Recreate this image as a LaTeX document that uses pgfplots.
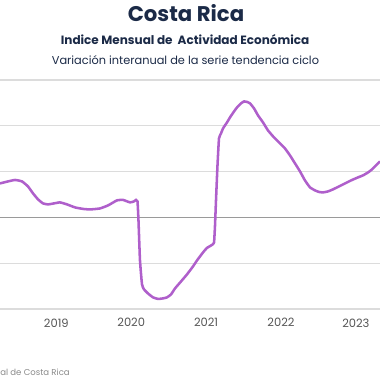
\documentclass[border=0pt]{standalone}
\usepackage{pgfplots}
\pgfplotsset{compat=1.18}
\usepackage{fontspec}
\setmainfont{Poppins}
\definecolor{navy}{HTML}{1B2A47}
\definecolor{linepurple}{HTML}{AF5FCB}
\definecolor{gridgray}{HTML}{DCDCDC}
\definecolor{zerogray}{HTML}{9A9A9A}
\definecolor{ticktext}{HTML}{555555}
\definecolor{srctext}{HTML}{8A8A8A}
\begin{document}
\begin{tikzpicture}
\path[use as bounding box] (0,0) rectangle (10cm,10cm);
\node[anchor=base, text=navy, font=\fontsize{15.9}{18}\selectfont\bfseries] at (4.895cm,9.429cm) {Costa Rica};
\node[anchor=base, text=navy, font=\fontsize{9.0}{10}\selectfont\bfseries] at (4.87cm,8.834cm) {Indice Mensual de~ Actividad Económica};
\node[anchor=base, text=navy, font=\fontsize{8.5}{10}\selectfont] at (4.88cm,8.308cm) {Variación interanual de la serie tendencia ciclo};
\node[anchor=base west, inner sep=0pt, text=srctext, font=\fontsize{6.4}{8}\selectfont] at (0,0.115cm) {al de Costa Rica};
\begin{axis}[
  at={(0,1.868cm)}, anchor=south west,
  scale only axis, width=10cm, height=6.026cm,
  xmin=2018.248, xmax=2023.322, ymin=-10, ymax=15,
  axis line style={draw=none},
  major tick length=0pt,
  xtick={2019,2020,2021,2022,2023},
  xticklabels={2019,2020,2021,2022,2023},
  xticklabel style={text=ticktext, font=\fontsize{8.6}{10}\selectfont, yshift=-3.6pt},
  ytick={-10,-5,0,5,10,15},
  yticklabels={},
  ymajorgrids,
  grid style={gridgray, line width=0.8pt},
  /pgf/number format/assume math mode=true,
]
\addplot[zerogray, line width=0.8pt, forget plot] coordinates {(2018,0) (2024,0)};
\addplot[linepurple, line width=1.9pt, smooth, tension=0.25] coordinates {
(2018.248,3.71) (2018.355,3.93) (2018.449,4.09) (2018.542,3.93) (2018.622,3.38)
(2018.689,2.62) (2018.756,1.97) (2018.822,1.53) (2018.889,1.42) (2018.969,1.53)
(2019.049,1.64) (2019.143,1.42) (2019.250,1.09) (2019.356,0.93) (2019.450,0.87)
(2019.583,0.98) (2019.690,1.31) (2019.810,1.86) (2019.891,1.91) (2019.984,1.64)
(2020.037,1.75) (2020.064,1.91) (2020.084,1.75) (2020.097,-0.33) (2020.117,-4.69)
(2020.144,-7.31) (2020.171,-7.86) (2020.224,-8.30) (2020.291,-8.73) (2020.358,-8.90)
(2020.425,-8.84) (2020.478,-8.73) (2020.531,-8.41) (2020.585,-7.75) (2020.665,-6.99)
(2020.745,-6.22) (2020.825,-5.35) (2020.879,-4.69) (2020.959,-3.82) (2021.012,-3.33)
(2021.079,-3.00) (2021.106,-2.73) (2021.119,-0.87) (2021.132,1.86) (2021.152,5.68)
(2021.172,8.62) (2021.199,9.17) (2021.226,9.72) (2021.279,10.37) (2021.319,10.92)
(2021.373,11.57) (2021.413,12.01) (2021.466,12.45) (2021.506,12.66) (2021.546,12.61)
(2021.586,12.45) (2021.640,11.90) (2021.693,11.14) (2021.760,10.37) (2021.826,9.50)
(2021.907,8.73) (2021.987,8.08) (2022.053,7.53) (2022.120,6.77) (2022.187,5.90)
(2022.254,5.02) (2022.320,4.04) (2022.387,3.28) (2022.454,2.95) (2022.507,2.78)
(2022.561,2.73) (2022.628,2.84) (2022.694,3.06) (2022.774,3.38) (2022.855,3.71)
(2022.935,4.04) (2023.028,4.37) (2023.095,4.59) (2023.162,4.91) (2023.215,5.24)
(2023.268,5.68) (2023.322,6.11)
};
\end{axis}
\end{tikzpicture}
\end{document}
